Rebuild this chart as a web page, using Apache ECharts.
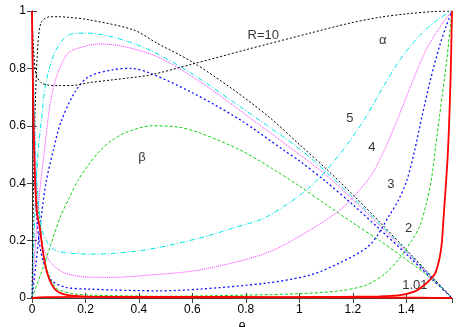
<!DOCTYPE html>
<html><head><meta charset="utf-8">
<script src="https://cdn.jsdelivr.net/npm/echarts@6/dist/echarts.min.js"></script>
<style>html,body{margin:0;padding:0;background:#fff}#c{width:467px;height:327px}</style>
</head><body><div id="c"></div>
<script>
// ---- data ----
const xTicks = [0, 0.2, 0.4, 0.6, 0.8, 1, 1.2, 1.4];
const yTicks = [0, 0.2, 0.4, 0.6, 0.8, 1];
const thetaMax = 1.5708;

// alpha curves
const thA10 = [0, 0.005, 0.015, 0.034, 0.06, 0.1, 0.17, 0.21, 0.3, 0.44, 0.6, 0.8, 1.04, 1.19, 1.3, 1.4, 1.5, 1.5708];
const alpha10 = [1, 0.88, 0.78, 0.75, 0.742, 0.74, 0.742, 0.75, 0.76, 0.777, 0.815, 0.865, 0.923, 0.958, 0.978, 0.99, 0.998, 1];
const thA5 = [0, 0.005, 0.012, 0.02, 0.03, 0.041, 0.06, 0.086, 0.135, 0.21, 0.3, 0.44, 0.628, 0.75, 0.878, 1.04, 1.15, 1.245, 1.31, 1.376, 1.45, 1.52, 1.5708];
const alpha5 = [1, 0.8, 0.55, 0.38, 0.28, 0.226, 0.19, 0.167, 0.157, 0.153, 0.155, 0.17, 0.209, 0.243, 0.283, 0.387, 0.5, 0.625, 0.73, 0.83, 0.915, 0.972, 1];
const thA4 = [0, 0.005, 0.012, 0.02, 0.03, 0.041, 0.071, 0.123, 0.21, 0.3, 0.44, 0.628, 0.878, 1.04, 1.15, 1.2, 1.27, 1.32, 1.37, 1.43, 1.477, 1.53, 1.5708];
const alpha4 = [1, 0.75, 0.5, 0.32, 0.23, 0.178, 0.122, 0.087, 0.073, 0.072, 0.08, 0.098, 0.157, 0.237, 0.305, 0.35, 0.43, 0.52, 0.63, 0.77, 0.87, 0.95, 1];
const thA3 = [0, 0.004, 0.01, 0.018, 0.028, 0.041, 0.071, 0.123, 0.21, 0.48, 0.628, 0.878, 1.04, 1.15, 1.264, 1.338, 1.37, 1.402, 1.43, 1.458, 1.49, 1.525, 1.55, 1.5708];
const alpha3 = [1, 0.7, 0.45, 0.28, 0.19, 0.132, 0.063, 0.038, 0.031, 0.025, 0.031, 0.052, 0.08, 0.122, 0.185, 0.29, 0.34, 0.41, 0.51, 0.63, 0.76, 0.88, 0.95, 1];
const thA2 = [0, 0.004, 0.01, 0.02, 0.03, 0.041, 0.056, 0.075, 0.097, 0.155, 0.21, 0.5, 0.8, 1.0, 1.15, 1.25, 1.32, 1.376, 1.42, 1.45, 1.475, 1.495, 1.51, 1.525, 1.55, 1.5708];
const alpha2 = [1, 0.7, 0.45, 0.33, 0.26, 0.17, 0.1, 0.055, 0.03, 0.015, 0.01, 0.006, 0.01, 0.015, 0.025, 0.045, 0.085, 0.14, 0.2, 0.25, 0.33, 0.42, 0.53, 0.64, 0.82, 1];
const thA101 = [0, 0.004, 0.01, 0.018, 0.03, 0.041, 0.056, 0.075, 0.1, 0.15, 0.25, 0.5, 1.0, 1.3, 1.376, 1.43, 1.46, 1.49, 1.51, 1.53, 1.54, 1.555, 1.565, 1.5708];
const alpha101 = [1, 0.7, 0.45, 0.3, 0.24, 0.16, 0.09, 0.045, 0.02, 0.008, 0.004, 0.002, 0.003, 0.006, 0.01, 0.022, 0.04, 0.065, 0.09, 0.17, 0.29, 0.5, 0.75, 1];

// beta curves
const thB10 = [0, 0.005, 0.01, 0.02, 0.034, 0.067, 0.105, 0.135, 0.21, 0.38, 0.467, 0.6, 0.75, 0.89, 1.0, 1.1, 1.2, 1.3, 1.4, 1.5, 1.5708];
const beta10 = [0, 0.35, 0.6, 0.85, 0.96, 0.98, 0.98, 0.978, 0.97, 0.934, 0.888, 0.822, 0.728, 0.628, 0.535, 0.45, 0.36, 0.265, 0.168, 0.07, 0];
const thB5 = [0, 0.01, 0.022, 0.034, 0.052, 0.086, 0.135, 0.2, 0.3, 0.44, 0.6, 0.85, 1.0, 1.1, 1.2, 1.3, 1.4, 1.5, 1.5708];
const beta5 = [0, 0.28, 0.5, 0.61, 0.75, 0.857, 0.916, 0.923, 0.91, 0.864, 0.78, 0.62, 0.52, 0.44, 0.35, 0.258, 0.164, 0.068, 0];
const thB4 = [0, 0.01, 0.03, 0.049, 0.067, 0.09, 0.135, 0.21, 0.254, 0.35, 0.48, 0.65, 0.826, 0.977, 1.1, 1.2, 1.3, 1.4, 1.5, 1.5708];
const beta4 = [0, 0.15, 0.38, 0.533, 0.672, 0.766, 0.853, 0.88, 0.885, 0.875, 0.836, 0.74, 0.62, 0.516, 0.428, 0.343, 0.252, 0.16, 0.066, 0];
const thB3 = [0, 0.015, 0.03, 0.052, 0.079, 0.108, 0.16, 0.21, 0.3, 0.37, 0.44, 0.6, 0.78, 0.94, 1.0, 1.1, 1.2, 1.3, 1.4, 1.5, 1.5708];
const beta3 = [0, 0.12, 0.247, 0.40, 0.512, 0.613, 0.717, 0.77, 0.795, 0.80, 0.784, 0.715, 0.62, 0.516, 0.478, 0.405, 0.325, 0.24, 0.153, 0.063, 0];
const thB2 = [0, 0.041, 0.07, 0.105, 0.14, 0.172, 0.21, 0.254, 0.3, 0.355, 0.45, 0.55, 0.628, 0.778, 0.9, 1.0, 1.1, 1.2, 1.3, 1.376, 1.47, 1.5708];
const beta2 = [0, 0.105, 0.185, 0.28, 0.35, 0.41, 0.462, 0.513, 0.55, 0.578, 0.60, 0.595, 0.575, 0.516, 0.45, 0.39, 0.325, 0.262, 0.2, 0.15, 0.085, 0];
const thB101 = [0, 0.05, 0.2, 0.5, 0.9, 1.2, 1.45, 1.5708];
const beta101 = [0, 0.003, 0.004, 0.004, 0.003, 0.002, 0.001, 0];

// annotations: text and their positions in data units
const noteText = ['R=10', 'α', '5', '4', '3', '2', '1.01', 'β'];
const noteTheta = [0.865, 1.312, 1.189, 1.271, 1.342, 1.409, 1.432, 0.411];
const noteVal = [0.915, 0.897, 0.627, 0.526, 0.395, 0.244, 0.045, 0.491];

// ---- build chart ----
const zip = (xs, ys) => xs.map((x, i) => [x, ys[i]]);
const styles = {
  10: {color: '#000000', type: [2, 2], width: 1},
  5: {color: '#00e5e5', type: [5, 2, 1, 2], width: 1},
  4: {color: '#ff30ff', type: [1, 1], width: 1},
  3: {color: '#1010ff', type: [2, 2.5], width: 1.3},
  2: {color: '#10d010', type: [3, 2], width: 1},
  1.01: {color: '#ff0000', type: 'solid', width: 1.8}
};
function line(name, xs, ys, key) {
  return {
    name: name, type: 'line', data: zip(xs, ys), showSymbol: false, symbol: 'none',
    smooth: 0.3, lineStyle: styles[key], silent: true, z: key === 1.01 ? 3 : 2
  };
}
const series = [
  line('b101', thB101, beta101, 1.01),
  line('b2', thB2, beta2, 2),
  line('b3', thB3, beta3, 3),
  line('b4', thB4, beta4, 4),
  line('b5', thB5, beta5, 5),
  line('b10', thB10, beta10, 10),
  line('a101', thA101, alpha101, 1.01),
  line('a2', thA2, alpha2, 2),
  line('a3', thA3, alpha3, 3),
  line('a4', thA4, alpha4, 4),
  line('a5', thA5, alpha5, 5),
  line('a10', thA10, alpha10, 10),
  {
    type: 'scatter', symbolSize: 0, silent: true,
    data: noteText.map((t, i) => ({value: [noteTheta[i], noteVal[i]], label: {formatter: t}})),
    label: {show: true, position: 'inside', color: '#000', fontSize: 13, fontFamily: 'Liberation Sans, Arial, sans-serif'}
  }
];
const axisFont = {color: '#000', fontSize: 12, fontFamily: 'Liberation Sans, Arial, sans-serif'};
const chart = echarts.init(document.getElementById('c'), null, {renderer: 'canvas'});
chart.setOption({
  animation: false,
  backgroundColor: '#fff',
  grid: {left: 32, right: 15, top: 11, bottom: 29, containLabel: false, outerBoundsMode: 'none'},
  xAxis: [{
    type: 'value', min: 0, max: thetaMax, interval: 0.2, position: 'bottom',
    name: 'θ', nameLocation: 'middle', nameGap: 18,
    nameTextStyle: Object.assign({}, axisFont, {fontSize: 13}),
    axisLine: {show: true, lineStyle: {color: '#444', width: 1}},
    axisTick: {show: true, inside: true, length: 5, lineStyle: {color: '#444'}},
    axisLabel: Object.assign({margin: 6, showMaxLabel: false,
      formatter: v => xTicks.some(t => Math.abs(t - v) < 1e-6) ? String(+v.toFixed(1)) : ''}, axisFont),
    splitLine: {show: false}
  }, {
    type: 'value', min: 0, max: thetaMax, interval: 0.2, position: 'top',
    axisLine: {show: true, lineStyle: {color: '#444', width: 1}},
    axisTick: {show: true, inside: true, length: 5, lineStyle: {color: '#444'}},
    axisLabel: {show: false}, splitLine: {show: false}
  }],
  yAxis: [{
    type: 'value', min: 0, max: 1, interval: 0.2, position: 'left',
    axisLine: {show: true, lineStyle: {color: '#444', width: 1}},
    axisTick: {show: true, inside: true, length: 5, lineStyle: {color: '#444'}},
    axisLabel: Object.assign({margin: 6,
      formatter: v => yTicks.some(t => Math.abs(t - v) < 1e-6) ? String(+v.toFixed(1)) : ''}, axisFont),
    splitLine: {show: false}
  }, {
    type: 'value', min: 0, max: 1, interval: 0.2, position: 'right',
    axisLine: {show: true, lineStyle: {color: '#444', width: 1}},
    axisTick: {show: true, inside: true, length: 5, lineStyle: {color: '#444'}},
    axisLabel: {show: false}, splitLine: {show: false}
  }],
  series: series
});
</script></body></html>
